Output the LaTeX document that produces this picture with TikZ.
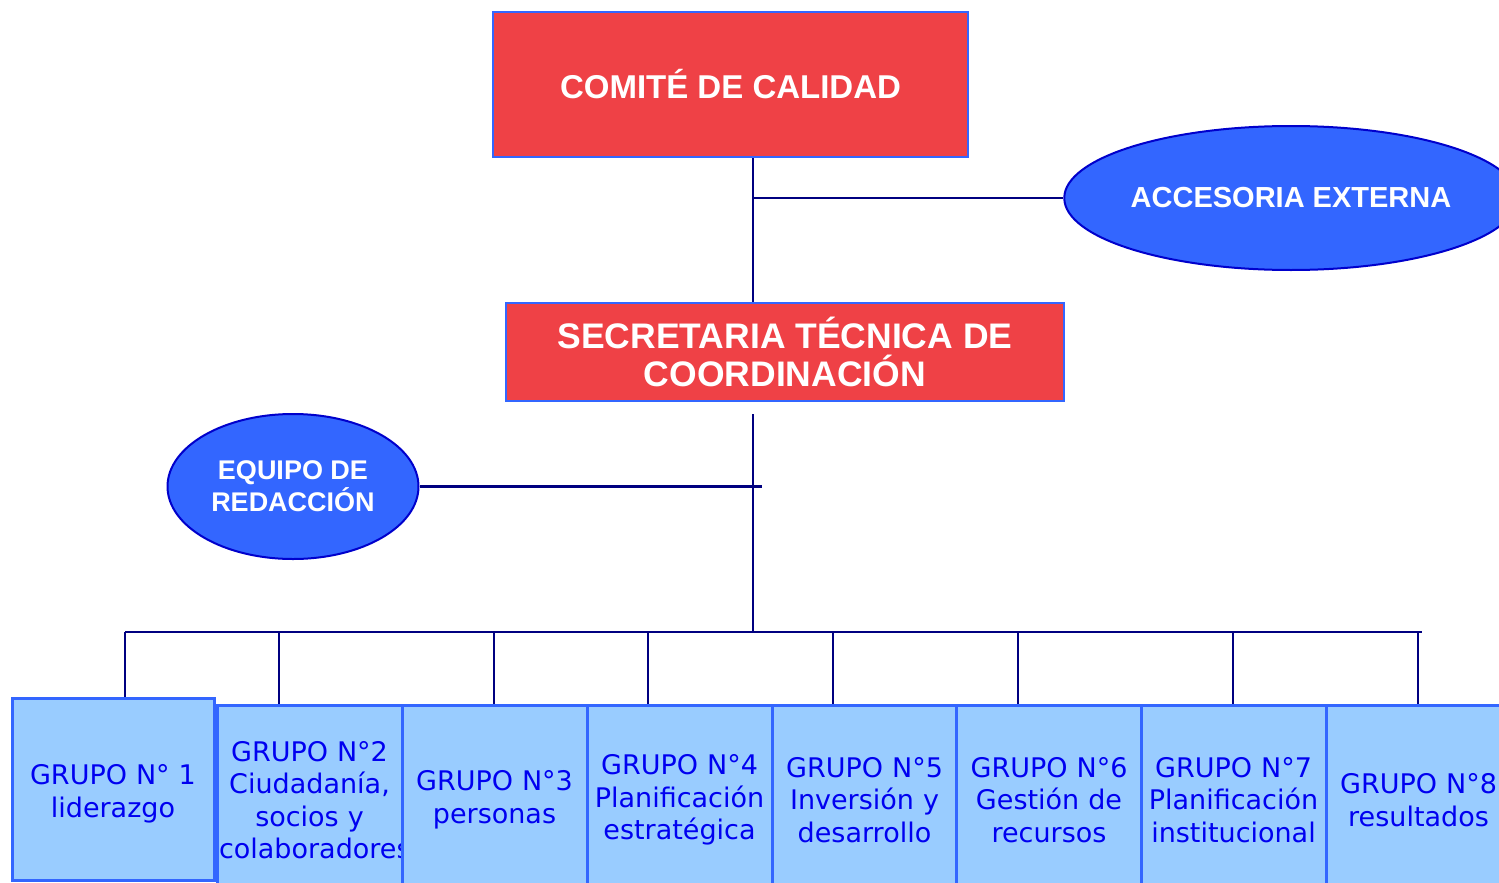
\documentclass[tikz,border=0pt]{standalone}
\usepackage{fontspec}
\setmainfont{Liberation Sans}
\newfontfamily\grpfont{DejaVu Sans}
\usetikzlibrary{shapes.geometric}
\definecolor{boxred}{HTML}{EF4146}
\definecolor{edgeblue}{HTML}{3366FF}
\definecolor{ellfill}{HTML}{3366FF}
\definecolor{elledge}{HTML}{0000CC}
\definecolor{grpfill}{HTML}{99CCFF}
\definecolor{grptext}{HTML}{0000F0}
\definecolor{navy}{HTML}{000080}
\tikzset{
  redbox/.style={rectangle, fill=boxred, draw=edgeblue, line width=2pt, inner sep=0pt,
    text=white, align=center},
  blueell/.style={ellipse, fill=ellfill, draw=elledge, line width=2pt, inner sep=0pt,
    text=white, align=center},
  grpbox/.style={rectangle, fill=grpfill, draw=edgeblue, line width=3pt, inner xsep=2pt, inner ysep=0pt,
    text=grptext, align=center, text width=181pt, minimum height=190pt,
    font=\grpfont\fontsize{27}{32.5}\selectfont},
  conn/.style={draw=navy, line width=2.3pt}
}
\begin{document}
\begin{tikzpicture}[x=1pt,y=-1pt]
\useasboundingbox (0,0) rectangle (1499,883);
\clip (0,0) rectangle (1499,883);
\fill[white] (0,0) rectangle (1499,883);

% top boxes
\node[redbox, minimum width=475pt, minimum height=145pt,
  font=\bfseries\fontsize{33}{38}\selectfont] (comite) at (730.5,84.5) {COMITÉ DE CALIDAD};
\node[redbox, minimum width=558pt, minimum height=98pt,
  font=\bfseries\fontsize{35.5}{38}\selectfont] (secre) at (785,352) {SECRETARIA TÉCNICA DE\\COORDINACIÓN};
\node[blueell, minimum width=446pt, minimum height=144pt,
  font=\bfseries\fontsize{29}{34}\selectfont] (acc) at (1291,198) {ACCESORIA EXTERNA};
\node[blueell, minimum width=251pt, minimum height=145pt,
  font=\bfseries\fontsize{27}{32}\selectfont] (equipo) at (293,486.5) {EQUIPO DE\\REDACCIÓN};

% spine coordinates
\coordinate (s1) at (753,198);
\coordinate (s2top) at (753,414);
\coordinate (s2) at (753,632);
\coordinate (eqend) at (762,486.5);
\coordinate (busL) at (125,632);
\coordinate (busR) at (1422,632);

\draw[conn] (comite.south -| s1) -- (secre.north -| s1);
\draw[conn] (s1) -- (acc.west);
\draw[conn] (s2top) -- (s2);
\draw[conn] (equipo.east) -- (eqend);
\draw[conn] (busL) -- (busR);

% group boxes
\node[grpbox, text width=198pt, minimum height=182pt] (g1) at (113,789) {\rule{0pt}{30pt}GRUPO N° 1\\liderazgo};
\node[grpbox] (g2) at (309.5,800) {GRUPO N°2\\Ciudadanía,\\socios y\\colaboradores};
\node[grpbox] (g3) at (494.5,800) {GRUPO N°3\\personas};
\node[grpbox] (g4) at (679.5,800) {GRUPO N°4\\Planificación\\estratégica};
\node[grpbox] (g5) at (864.5,800) {GRUPO N°5\\Inversión y\\desarrollo};
\node[grpbox] (g6) at (1049,800) {GRUPO N°6\\Gestión de\\recursos};
\node[grpbox] (g7) at (1233.5,800) {GRUPO N°7\\Planificación\\institucional};
\node[grpbox] (g8) at (1418.5,800) {GRUPO N°8\\resultados};

% drops
\coordinate (d1) at (125,632);
\coordinate (d2) at (279,632);
\coordinate (d3) at (494,632);
\coordinate (d4) at (648,632);
\coordinate (d5) at (833,632);
\coordinate (d6) at (1018,632);
\coordinate (d7) at (1233,632);
\coordinate (d8) at (1418,632);
\draw[conn] (d1) -- (d1 |- g1.north);
\draw[conn] (d2) -- (d2 |- g2.north);
\draw[conn] (d3) -- (d3 |- g3.north);
\draw[conn] (d4) -- (d4 |- g4.north);
\draw[conn] (d5) -- (d5 |- g5.north);
\draw[conn] (d6) -- (d6 |- g6.north);
\draw[conn] (d7) -- (d7 |- g7.north);
\draw[conn] (d8) -- (d8 |- g8.north);
\end{tikzpicture}
\end{document}
